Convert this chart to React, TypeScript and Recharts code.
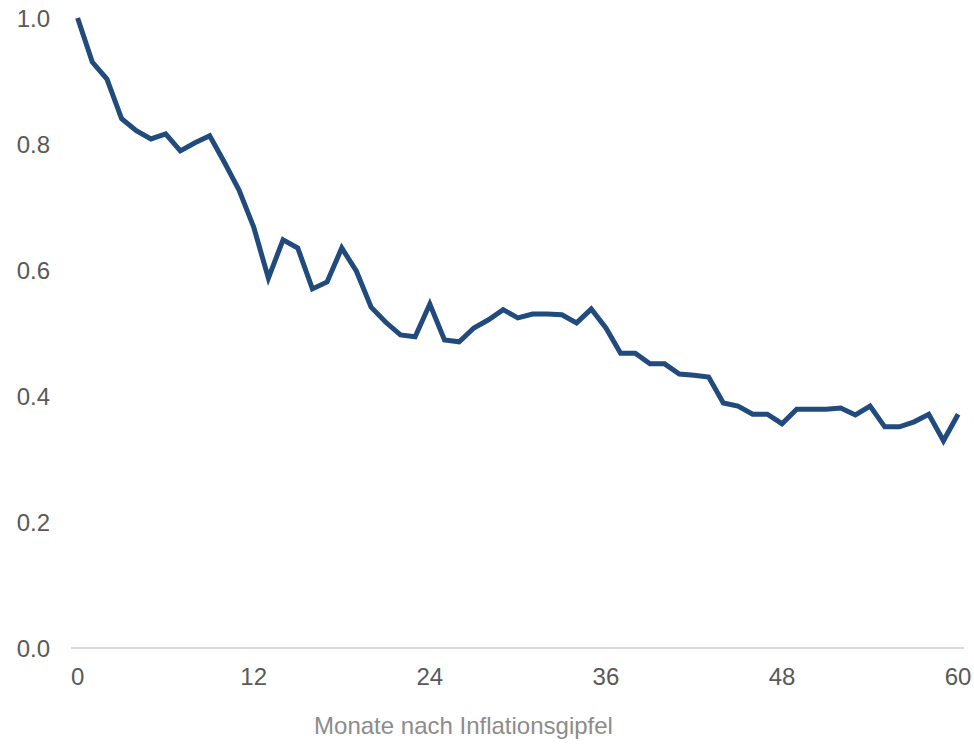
import React from "react";
import { LineChart, Line, XAxis, YAxis } from "recharts";

// Months after the inflation peak
const months: number[] = Array.from({ length: 61 }, (_, i) => i);

// Ratio of inflation relative to its peak
const ratio: number[] = [
  1.0, 0.93, 0.903, 0.84, 0.821, 0.808, 0.816, 0.789, 0.802, 0.813,
  0.771, 0.727, 0.668, 0.587, 0.648, 0.635, 0.57, 0.581, 0.635, 0.598,
  0.541, 0.517, 0.497, 0.494, 0.546, 0.489, 0.486, 0.508, 0.521, 0.537,
  0.524, 0.53, 0.53, 0.529, 0.516, 0.538, 0.508, 0.468, 0.468, 0.451,
  0.451, 0.435, 0.433, 0.43, 0.389, 0.384, 0.371, 0.371, 0.356, 0.379,
  0.379, 0.379, 0.381, 0.37, 0.384, 0.351, 0.351, 0.359, 0.371, 0.329,
  0.371,
];

const xTicks: number[] = [0, 12, 24, 36, 48, 60];
const yTicks: number[] = [0, 0.2, 0.4, 0.6, 0.8, 1.0];
const xTitle = "Monate nach Inflationsgipfel";

const data = months.map((m, i) => ({ month: m, value: ratio[i] }));

const FONT = "'Liberation Sans', Arial, sans-serif";

export default function App() {
  return (
    <div style={{ position: "absolute", left: 0, top: 0, background: "#fff" }}>
      <LineChart
        width={974}
        height={745}
        data={data}
        margin={{ top: 18, right: 10, bottom: 0, left: 0 }}
      >
        <XAxis
          dataKey="month"
          type="number"
          domain={[-0.45, 60.4]}
          ticks={xTicks}
          tickLine={false}
          tickMargin={14}
          height={97}
          axisLine={{ stroke: "#d9d9d9", strokeWidth: 2 }}
          tick={{ fill: "#595959", fontSize: 24, fontFamily: FONT }}
          label={{
            value: xTitle,
            position: "insideBottom",
            offset: 11,
            dx: -54,
            fill: "#8c8c8c",
            fontSize: 24,
            fontFamily: FONT,
          }}
        />
        <YAxis
          type="number"
          domain={[0, 1]}
          ticks={yTicks}
          width={71}
          tickLine={false}
          axisLine={false}
          tickMargin={15}
          tickFormatter={(v: number) => v.toFixed(1)}
          tick={{ fill: "#595959", fontSize: 24, fontFamily: FONT }}
        />
        <Line
          type="linear"
          dataKey="value"
          stroke="#214b7d"
          strokeWidth={5}
          dot={false}
          isAnimationActive={false}
        />
      </LineChart>
    </div>
  );
}
